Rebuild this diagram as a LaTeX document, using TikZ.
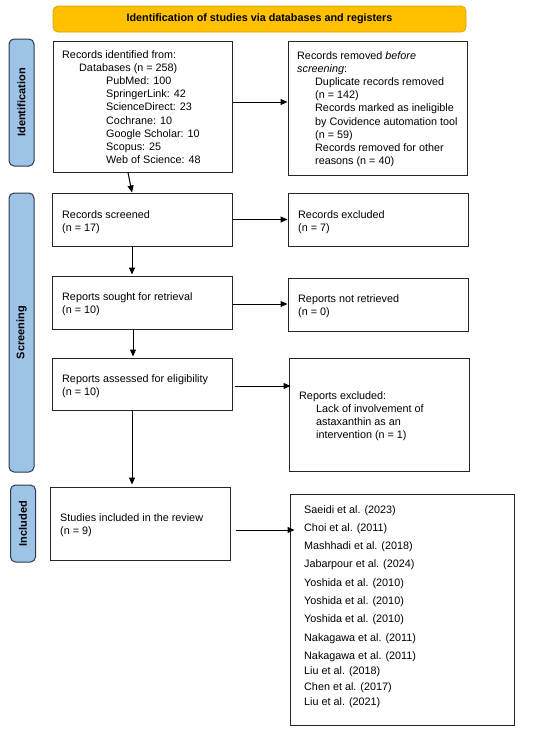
\documentclass[tikz,border=0pt]{standalone}
\usepackage{fontspec}
\setmainfont{Liberation Sans}
\usetikzlibrary{arrows.meta}
\definecolor{bannerfill}{HTML}{FFC000}
\definecolor{bannerline}{HTML}{D9A300}
\definecolor{sidefill}{HTML}{9DC3E6}
\definecolor{sideline}{HTML}{2E3B4E}
\definecolor{boxline}{HTML}{262626}
\begin{document}
\begin{tikzpicture}[x=1pt,y=-1pt,
  box/.style={draw=boxline, line width=1pt, inner sep=0pt, minimum width=180pt},
  txt/.style={anchor=north west, inner sep=0pt, align=left, font=\fontsize{10.8pt}{13.2pt}\selectfont},
  side/.style={draw=sideline, fill=sidefill, line width=1pt, rounded corners=5pt, minimum height=25pt, inner sep=0pt, font=\fontsize{11pt}{13pt}\selectfont\bfseries},
  arr/.style={line width=1pt, -{Triangle[length=7pt,width=6pt]}}]
\useasboundingbox (0,0) rectangle (550,732);
% banner
\node[draw=bannerline, fill=bannerfill, line width=0.8pt, rounded corners=5pt, minimum width=413pt, minimum height=26pt, inner sep=0pt, font=\fontsize{10.8pt}{13pt}\selectfont\bfseries] (banner) at (259.5,19) {Identification of studies via databases and registers};
% side bars
\node[side, minimum width=127pt, rotate=90] (sid) at (21.5,102.5) {Identification};
\node[side, minimum width=279pt, rotate=90] (ssc) at (21.5,332.5) {Screening};
\node[side, minimum width=77pt, rotate=90] (sin) at (23,523.5) {Included};
% boxes
\node[box, minimum width=179pt, minimum height=131pt] (b1) at (142.5,106.5) {};
\node[box, minimum width=179pt, minimum height=134pt] (b2) at (377.5,108) {};
\node[box, minimum height=53pt] (sc) at (142,219.5) {};
\node[box, minimum height=53pt] (ex) at (378,219.5) {};
\node[box, minimum height=53pt] (so) at (142,302.5) {};
\node[box, minimum height=53pt] (nr) at (378,304.5) {};
\node[box, minimum height=52pt] (as) at (142,384) {};
\node[box, minimum height=113pt] (re) at (379,414.5) {};
\node[box, minimum height=73pt] (in) at (140,523.5) {};
\node[box, minimum width=224pt, minimum height=231pt] (li) at (402,609.5) {};
% texts
\node[txt] (t1) at (62,50) {Records identified from:\\
\hspace*{17pt}Databases (n = 258)\\
\hspace*{44pt}PubMed: 100\\
\hspace*{44pt}SpringerLink: 42\\
\hspace*{44pt}ScienceDirect: 23\\
\hspace*{44pt}Cochrane: 10\\
\hspace*{44pt}Google Scholar: 10\\
\hspace*{44pt}Scopus: 25\\
\hspace*{44pt}Web of Science: 48};
\node[txt] (t2) at (297,51) {Records removed \textit{before}\\
\textit{screening}:\\
\hspace*{18pt}Duplicate records removed\\
\hspace*{18pt}(n = 142)\\
\hspace*{18pt}Records marked as ineligible\\
\hspace*{18pt}by Covidence automation tool\\
\hspace*{18pt}(n = 59)\\
\hspace*{18pt}Records removed for other\\
\hspace*{18pt}reasons (n = 40)};
\node[txt] (tsc) at (62,210) {Records screened\\(n = 17)};
\node[txt] (tex) at (298,210) {Records excluded\\(n = 7)};
\node[txt] (tso) at (62,292) {Reports sought for retrieval\\(n = 10)};
\node[txt] (tnr) at (298,294) {Reports not retrieved\\(n = 0)};
\node[txt] (tas) at (62,374) {Reports assessed for eligibility\\(n = 10)};
\node[txt] (tre) at (299,391) {Reports excluded:\\
\hspace*{17pt}Lack of involvement of\\
\hspace*{17pt}astaxanthin as an\\
\hspace*{17pt}intervention (n = 1)};
\node[txt] (tin) at (60,513) {Studies included in the review\\(n = 9)};
\node[txt] (tli) at (304,505) {Saeidi et al. (2023)\\[5.1pt]
Choi et al. (2011)\\[5.1pt]
Mashhadi et al. (2018)\\[5.1pt]
Jabarpour et al. (2024)\\[5.1pt]
Yoshida et al. (2010)\\[5.1pt]
Yoshida et al. (2010)\\[5.1pt]
Yoshida et al. (2010)\\[5.1pt]
Nakagawa et al. (2011)\\[5.1pt]
Nakagawa et al. (2011)\\[2.1pt]
Liu et al. (2018)\\[2.1pt]
Chen et al. (2017)\\[2.1pt]
Liu et al. (2021)};
% arrows
\draw[arr] ([yshift=4.5pt]b1.east) -- ([yshift=4.5pt]b1.east -| b2.west);
\draw[arr] (sc.east) -- (ex.west);
\draw[arr] ([yshift=-1.5pt]so.east) -- ([yshift=-1.5pt]so.east -| nr.west);
\draw[arr] ([xshift=2pt,yshift=-2pt]as.east) -- ([xshift=2pt,yshift=-2pt]as.east -| re.west);
\draw[arr] ([xshift=5pt,yshift=-6.5pt]in.east) -- ([xshift=5pt,yshift=-6.5pt]in.east -| li.west);
\draw[arr] ([xshift=-14.5pt]b1.south) -- ([xshift=-10pt]sc.north);
\draw[arr, shorten >=1pt] ([xshift=-10pt]sc.south) -- ([xshift=-10pt]so.north);
\draw[arr, shorten >=1pt] ([xshift=-9pt]so.south) -- ([xshift=-9pt]as.north);
\draw[arr, shorten >=2pt] ([xshift=-10pt]as.south) -- ([xshift=-10pt]as.south |- in.north);
\end{tikzpicture}
\end{document}
